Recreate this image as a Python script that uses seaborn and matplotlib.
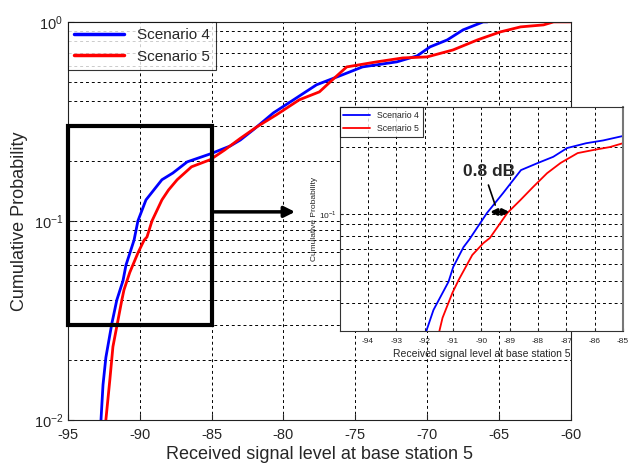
import numpy as np
import pandas as pd
import matplotlib
matplotlib.use("Agg")
import matplotlib.pyplot as plt
import seaborn as sns
from matplotlib.patches import Rectangle
from matplotlib.ticker import NullFormatter, FixedLocator, FixedFormatter

# Кривые основного графика
s4_signal = [-92.70, -92.56, -92.36, -91.94, -91.6, -91.17, -90.96, -90.4, -90.13, -89.57,
             -88.46, -87.7, -86.7, -85.1, -83.7, -83.0, -82.1, -80.7, -79.3, -77.7,
             -76.1, -74.5, -72.1, -70.7, -69.8, -68.6, -67.5, -66.1, -65.8]
s4_prob = [0.01, 0.015, 0.0206, 0.0306, 0.04, 0.05, 0.06, 0.08, 0.1, 0.1275,
           0.161, 0.174, 0.198, 0.217, 0.238, 0.255, 0.287, 0.349, 0.406, 0.483,
           0.535, 0.594, 0.63, 0.675, 0.749, 0.812, 0.912, 1.0, 1.0]

s5_signal = [-92.36, -92.08, -91.87, -91.25, -91.1, -90.7, -90.13, -89.7, -89.5, -89.15,
             -88.46, -88.0, -87.4, -86.4, -85.1, -84.1, -83.0, -81.85, -80.5, -78.9,
             -77.5, -76.6, -75.6, -73.5, -71.7, -70.0, -68.2, -66.5, -64.9, -63.5,
             -61.9, -61.2, -60.0]
s5_prob = [0.01, 0.016, 0.0233, 0.04, 0.045, 0.055, 0.069, 0.080, 0.083, 0.1,
           0.1275, 0.143, 0.161, 0.187, 0.203, 0.227, 0.26, 0.297, 0.341, 0.406,
           0.445, 0.511, 0.594, 0.63, 0.659, 0.667, 0.723, 0.812, 0.891, 0.944,
           0.966, 1.0, 1.0]

# Кривые на врезке (увеличенный фрагмент)
zoom_s4_signal = [-91.94, -91.69, -91.16, -90.99, -90.63, -90.42, -89.8, -89.23, -88.6,
                  -88.0, -87.46, -86.97, -86.3, -85.7, -85.0]
zoom_s4_prob = [0.03, 0.0372, 0.0497, 0.058, 0.071, 0.077, 0.101, 0.124, 0.157,
                0.169, 0.180, 0.197, 0.207, 0.213, 0.223]
zoom_s5_signal = [-91.48, -91.37, -91.02, -90.8, -90.32, -89.93, -89.7, -89.08, -88.63,
                  -88.17, -87.68, -87.2, -86.6, -86.05, -85.46, -85.0]
zoom_s5_prob = [0.03, 0.0343, 0.0444, 0.0507, 0.0655, 0.074, 0.078, 0.101, 0.115,
                0.132, 0.152, 0.169, 0.187, 0.193, 0.199, 0.207]

main_xticks = [-95, -90, -85, -80, -75, -70, -65, -60]
zoom_xticks = [-94, -93, -92, -91, -90, -89, -88, -87, -86, -85]

palette = {'Scenario 4': 'blue', 'Scenario 5': 'red'}
grid_kw = dict(color='black', linestyle=(0, (3, 3)), linewidth=0.7)


def make_df(x4, p4, x5, p5):
    return pd.concat([
        pd.DataFrame({'signal': x4, 'prob': p4, 'scenario': 'Scenario 4'}),
        pd.DataFrame({'signal': x5, 'prob': p5, 'scenario': 'Scenario 5'}),
    ], ignore_index=True)


sns.set_style('ticks')
plt.rcParams['font.family'] = ['Liberation Sans', 'DejaVu Sans']
plt.rcParams['mathtext.fontset'] = 'custom'
plt.rcParams['mathtext.rm'] = 'Liberation Sans'

fig = plt.figure(figsize=(6.35, 4.66), dpi=100)
ax = fig.add_axes([0.107, 0.099, 0.792, 0.854])

df_main = make_df(s4_signal, s4_prob, s5_signal, s5_prob)
sns.lineplot(data=df_main, x='signal', y='prob', hue='scenario', palette=palette,
             sort=False, estimator=None, linewidth=2.0, ax=ax)
ax.set_yscale('log')
ax.set_xlim(-95, -60)
ax.set_ylim(0.01, 1)
ax.set_xticks(main_xticks)
ax.set_xticklabels([str(t) for t in main_xticks])
ax.yaxis.set_minor_formatter(NullFormatter())
ax.grid(True, which='major', **grid_kw)
ax.grid(True, which='minor', axis='y', **grid_kw)
ax.tick_params(direction='in', labelsize=10.5, length=4)
ax.tick_params(axis='x', pad=6)
ax.tick_params(which='minor', direction='in', length=2)
for sp in ax.spines.values():
    sp.set_linewidth(0.8)
    sp.set_color('#222222')
ax.set_xlabel('Received signal level at base station 5', fontsize=13, labelpad=3)
ax.set_ylabel('Cumulative Probability', fontsize=13)
leg = ax.legend(loc='upper left', fontsize=11, frameon=True, fancybox=False,
                edgecolor='black', borderaxespad=0, handlelength=3.3)
leg.get_frame().set_linewidth(0.8)
for ln in leg.get_lines():
    ln.set_linewidth(2.5)

# рамка вокруг увеличенного участка и стрелка к врезке
ax.add_patch(Rectangle((-95, 0.03), 10, 0.27, fill=False, edgecolor='black',
                       linewidth=3, zorder=5, clip_on=False))
ax.annotate('', xy=(-79.0, 0.111), xytext=(-85, 0.111),
            arrowprops=dict(arrowstyle='-|>', lw=2.5, color='black', mutation_scale=16),
            zorder=6)

# ================= Врезка =================
axin = fig.add_axes([0.535, 0.290, 0.446, 0.480])
axin.set_facecolor('white')
df_zoom = make_df(zoom_s4_signal, zoom_s4_prob, zoom_s5_signal, zoom_s5_prob)
sns.lineplot(data=df_zoom, x='signal', y='prob', hue='scenario', palette=palette,
             sort=False, estimator=None, linewidth=1.3, ax=axin)
axin.set_yscale('log')
axin.set_xlim(-95, -85)
axin.set_ylim(0.03, 0.3)
axin.set_xticks(zoom_xticks)
axin.set_xticklabels([str(t) for t in zoom_xticks])
axin.yaxis.set_major_locator(FixedLocator([0.1]))
axin.yaxis.set_major_formatter(FixedFormatter([r'$10^{-1}$']))
axin.yaxis.set_minor_formatter(NullFormatter())
axin.grid(True, which='major', **grid_kw)
axin.grid(True, which='minor', axis='y', **grid_kw)
axin.tick_params(direction='in', labelsize=6, length=2, pad=2)
axin.tick_params(axis='x', pad=5)
axin.tick_params(which='minor', direction='in', length=1)
for sp in axin.spines.values():
    sp.set_linewidth(0.8)
    sp.set_color('#333333')
axin.spines['right'].set_linewidth(1.5)
axin.spines['right'].set_color('#777777')
axin.set_xlabel('Received signal level at base station 5', fontsize=7.5, labelpad=3)
axin.set_ylabel('Cumulative Probability', fontsize=6, labelpad=1)
leg2 = axin.legend(loc='upper left', fontsize=6.3, frameon=True, fancybox=False,
                   edgecolor='black', borderaxespad=0, handlelength=3.1)
leg2.get_frame().set_linewidth(0.8)

# подпись 0.8 dB
axin.annotate('', xy=(-88.91, 0.102), xytext=(-89.79, 0.102),
              arrowprops=dict(arrowstyle='<|-|>', lw=2, color='black', mutation_scale=9))
axin.plot([-89.75, -89.51], [0.1346, 0.1095], color='black', linewidth=1.2)
axin.text(-89.72, 0.154, '0.8 dB', fontsize=12.5, fontweight='bold', ha='center', va='center')

plt.savefig('out.png', dpi=100)
